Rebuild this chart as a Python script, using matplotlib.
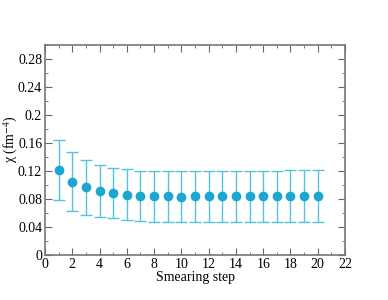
import matplotlib
matplotlib.use("Agg")
import matplotlib.pyplot as plt
from matplotlib.ticker import MultipleLocator, FuncFormatter

steps = list(range(1, 21))
chi = [0.121, 0.105, 0.0967, 0.0914, 0.0886, 0.0860, 0.0845, 0.0840, 0.0836, 0.0835,
       0.0836, 0.0837, 0.0838, 0.0838, 0.0838, 0.0839, 0.0840, 0.0841, 0.0842, 0.0843]
err = [0.043, 0.042, 0.039, 0.0378, 0.0362, 0.0362, 0.0362, 0.0362, 0.0362, 0.0364,
       0.0366, 0.0366, 0.0366, 0.0366, 0.0366, 0.0366, 0.0366, 0.0367, 0.0368, 0.0368]

plt.rcParams['font.family'] = ['Liberation Serif', 'DejaVu Serif']
plt.rcParams['mathtext.fontset'] = 'stix'

fig = plt.figure(figsize=(3.88, 3.0), dpi=100)
ax = fig.add_axes([45 / 388, 45 / 300, 300 / 388, 210 / 300])

ax.errorbar(steps, chi, yerr=err, fmt='o', color='#1ba7d0', ecolor='#55c3dd',
            elinewidth=1.0, capsize=4.5, capthick=1.0, markersize=6)

ax.set_xlim(0, 22)
ax.set_ylim(0, 0.3)
ax.xaxis.set_major_locator(MultipleLocator(2))
ax.xaxis.set_minor_locator(MultipleLocator(1))
ax.yaxis.set_major_locator(MultipleLocator(0.04))
ax.yaxis.set_minor_locator(MultipleLocator(0.02))
ax.yaxis.set_major_formatter(FuncFormatter(lambda v, p: '%g' % round(v, 4)))

ax.tick_params(which='both', direction='in', top=True, right=True,
               labelsize=10, color='#666666', pad=2)
ax.tick_params(which='major', length=5)
ax.tick_params(which='minor', length=2.5)
for s in ax.spines.values():
    s.set_color('#777777')
    s.set_linewidth(1.2)

ax.set_xlabel('Smearing step', fontsize=10, labelpad=0)
ax.set_ylabel('\u03c7 (fm$^{-4}$)', fontsize=10)
ax.yaxis.set_label_coords(-0.082, 0.55)

fig.savefig('out.png', dpi=100)
